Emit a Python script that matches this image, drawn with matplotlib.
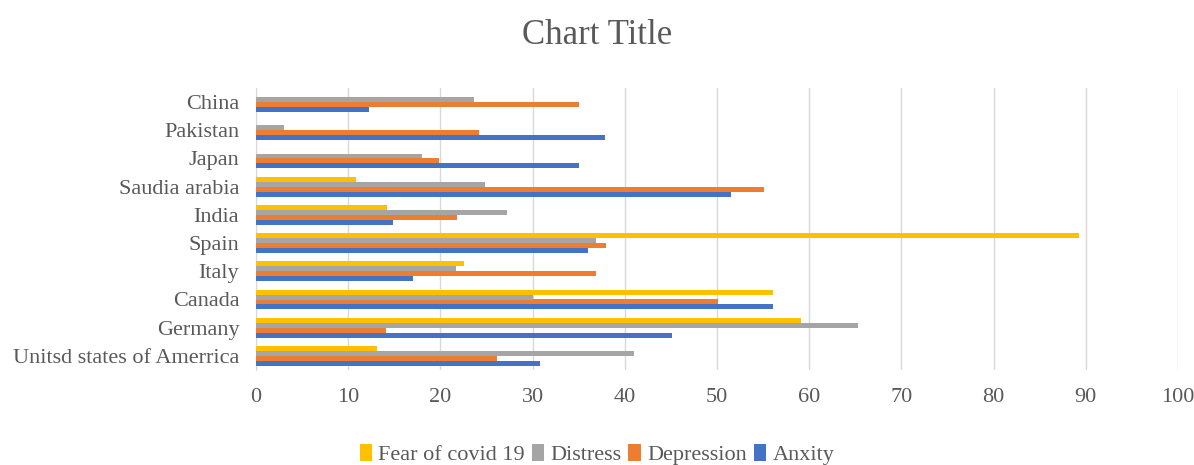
import numpy as np
import matplotlib.pyplot as plt

countries = ["Unitsd states of Amerrica", "Germany", "Canada", "Italy", "Spain",
             "India", "Saudia arabia", "Japan", "Pakistan", "China"]
anxity = [30.8, 45.1, 56.1, 17.0, 36.0, 14.9, 51.5, 35.0, 37.9, 12.3]
depression = [26.1, 14.1, 50.1, 36.9, 38.0, 21.8, 55.1, 19.8, 24.2, 35.0]
distress = [41.0, 65.3, 30.0, 21.7, 36.9, 27.2, 24.8, 18.0, 3.0, 23.6]
fear_covid = [13.1, 59.1, 56.1, 22.6, 89.3, 14.2, 10.8, 0, 0, 0]

series = [("Anxity", anxity, "#4472C4"),
          ("Depression", depression, "#ED7D31"),
          ("Distress", distress, "#A5A5A5"),
          ("Fear of covid 19", fear_covid, "#FFC000")]

plt.rcParams['font.family'] = ['Liberation Serif', 'DejaVu Serif']

fig = plt.figure(figsize=(11.94, 4.65), dpi=100)
ax = fig.add_axes([256 / 1194, 1 - 370 / 465, 922 / 1194, 282 / 465])

y = np.arange(len(countries))
h = 0.175
for i, (name, vals, col) in enumerate(series):
    ax.barh(y + (i - 1.5) * h, vals, height=h, color=col, label=name, zorder=3)

ax.set_xlim(0, 100)
ax.set_ylim(-0.5, len(countries) - 0.5)
ax.set_xticks(np.arange(0, 101, 10))
ax.set_yticks(y)
ax.set_yticklabels(countries)
ax.tick_params(axis='both', length=0, labelsize=16, labelcolor='#595959')
ax.tick_params(axis='x', pad=13)
ax.tick_params(axis='y', pad=12)
ax.grid(axis='x', color='#D9D9D9', linewidth=1, zorder=0)
for s in ['top', 'right', 'bottom']:
    ax.spines[s].set_visible(False)
ax.spines['left'].set_color('#D9D9D9')

fig.suptitle("Chart Title", y=0.96, fontsize=25, color='#595959')

handles, labels = ax.get_legend_handles_labels()
fig.legend(handles[::-1], labels[::-1], loc='center', bbox_to_anchor=(0.5, 0.022),
           ncol=4, frameon=False, fontsize=16, handlelength=0.55, handleheight=0.75,
           handletextpad=0.3, columnspacing=0.3, labelcolor='#595959')

fig.savefig("out.png", dpi=100)
